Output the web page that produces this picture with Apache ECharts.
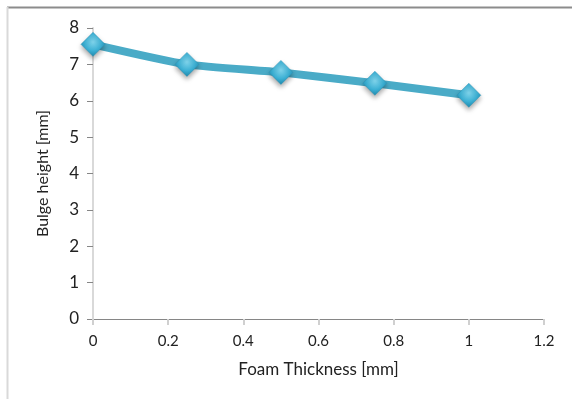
<!DOCTYPE html>
<html>
<head>
<meta charset="utf-8">
<script src="https://cdn.jsdelivr.net/npm/echarts@6/dist/echarts.min.js"></script>
<style>
html,body{margin:0;padding:0;background:#fff;}
#chart{width:572px;height:399px;}
</style>
</head>
<body>
<div id="chart"></div>
<script>
var thickness = [0, 0.25, 0.5, 0.75, 1];
var bulge = [7.55, 7.0, 6.78, 6.48, 6.15];

var chart = echarts.init(document.getElementById('chart'));
var font = 'Lato, "Open Sans", sans-serif';

var option = {
    animation: false,
    grid: {left: 93, top: 28, right: 28, bottom: 80},
    graphic: [
        {type: 'line', shape: {x1: 7, y1: 7.5, x2: 572, y2: 7.5}, style: {stroke: '#8c8c8c', lineWidth: 2}},
        {type: 'line', shape: {x1: 7.5, y1: 7, x2: 7.5, y2: 399}, style: {stroke: '#d9d9d9', lineWidth: 2}}
    ],
    xAxis: {
        type: 'value', min: 0, max: 1.2, interval: 0.2,
        name: 'Foam Thickness [mm]', nameLocation: 'middle', nameGap: 42,
        nameTextStyle: {fontFamily: font, fontSize: 17, color: '#222'},
        axisLine: {lineStyle: {color: '#868686', width: 1}},
        axisTick: {show: true, length: 6, lineStyle: {color: '#d0d0d0', width: 2}},
        axisLabel: {fontFamily: font, fontSize: 15, color: '#222', margin: 15},
        splitLine: {show: false}
    },
    yAxis: {
        type: 'value', min: 0, max: 8, interval: 1,
        name: 'Bulge height [mm]', nameLocation: 'middle', nameGap: 42,
        nameTextStyle: {fontFamily: font, fontSize: 16, color: '#222'},
        axisLine: {show: true, lineStyle: {color: '#d9d9d9', width: 2}},
        axisTick: {show: true, length: 6, lineStyle: {color: '#868686'}},
        axisLabel: {fontFamily: font, fontSize: 17, color: '#222', margin: 14},
        splitLine: {show: false}
    },
    series: [{
        type: 'line',
        data: thickness.map(function (t, i) { return [t, bulge[i]]; }),
        smooth: 0.2,
        lineStyle: {color: '#4aabc7', width: 8},
        symbol: 'diamond',
        symbolSize: 24,
        itemStyle: {
            color: new echarts.graphic.RadialGradient(0.5, 0.4, 0.6, [
                {offset: 0, color: '#7fd3ea'},
                {offset: 0.6, color: '#3cb0d4'},
                {offset: 1, color: '#1f8aae'}
            ]),
            borderColor: '#2b93b6', borderWidth: 0.5,
            shadowColor: 'rgba(0,0,0,0.35)', shadowBlur: 5, shadowOffsetY: 3
        }
    }]
};
chart.setOption(option);
</script>
</body>
</html>
